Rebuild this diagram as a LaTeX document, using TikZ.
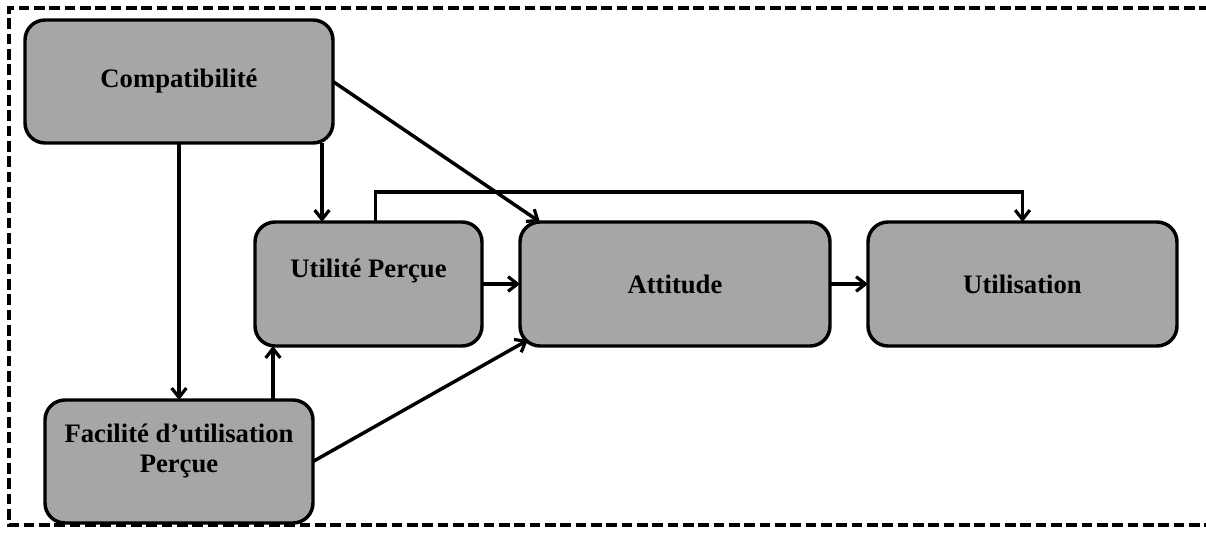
\documentclass[tikz,border=0pt]{standalone}
\usepackage{fontspec}
\setmainfont{Liberation Serif}
\usetikzlibrary{arrows.meta,calc}
\tikzset{every picture/.style={line width=2.6pt}}
\tikzset{tambox/.style={draw=black,fill=boxgray,rounded corners=15pt,outer sep=0pt,inner sep=0pt,align=center,font=\fontsize{20}{22.5}\selectfont\bfseries}}
\tikzset{tamarrow/.style={-{Straight Barb[length=7pt,width=11pt,line width=2.4pt]}}}
\definecolor{boxgray}{HTML}{A6A6A6}

\begin{document}
\begin{tikzpicture}[x=0.75pt,y=0.75pt,yscale=-1,xscale=1]
\useasboundingbox (0,0) rectangle (1206,535);
\draw [dash pattern=on 8pt off 3.5pt]  (1210,8) -- (9,8) -- (9,525) -- (1210,525) ;
\draw (179,81.5) node [tambox,minimum width=231pt,minimum height=92.25pt] (comp) {Compatibilité};
\draw (368.5,284) node [tambox,minimum width=170.25pt,minimum height=93pt,text depth=23pt] (util) {Utilité Perçue};
\draw (675,284) node [tambox,minimum width=232.5pt,minimum height=93pt] (att) {Attitude};
\draw (1022.5,284) node [tambox,minimum width=231.75pt,minimum height=93pt] (usage) {Utilisation};
\draw (179,461.5) node [tambox,minimum width=201pt,minimum height=92.25pt,text depth=20pt] (fac) {Facilité d’utilisation\\Perçue};
\coordinate (cutop) at ($(util.north west)+(67,0)$);
\coordinate (cubot) at ($(util.south west)+(18,0)$);
\draw [tamarrow]  (comp.south) -- (fac.north) ;
\draw [tamarrow]  (cutop |- comp.south) -- (cutop) ;
\draw [tamarrow]  (comp.east) -- ($(att.north west)+(20,0)$) ;
\draw [tamarrow]  ($(util.north)+(7,0)$) -- ++(0,-30) -| (usage.north) ;
\draw [tamarrow]  (util.east) -- (att.west) ;
\draw [tamarrow]  (att.east) -- (usage.west) ;
\draw [tamarrow]  (cubot |- fac.north) -- (cubot) ;
\draw [tamarrow]  (fac.east) -- ($(att.south west)+(8,-6)$) ;
\end{tikzpicture}
\end{document}
